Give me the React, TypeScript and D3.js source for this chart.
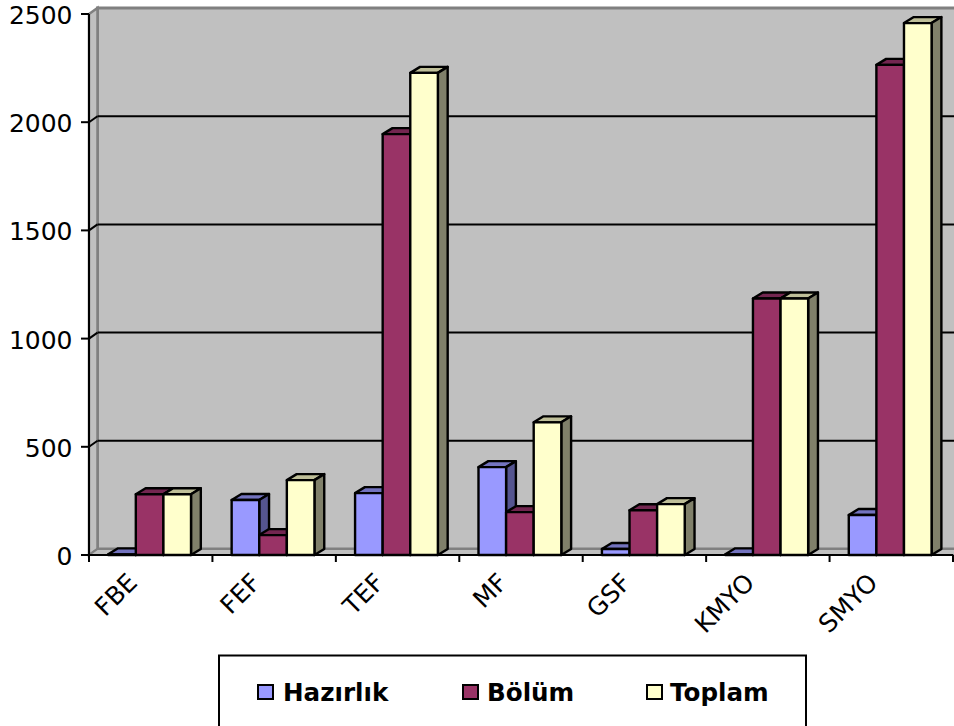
import React from "react";
import * as d3 from "d3";

const categories = ["FBE", "FEF", "TEF", "MF", "GSF", "KMYO", "SMYO"];
const seriesNames = ["Hazırlık", "Bölüm", "Toplam"];
const hazirlik = [3, 254, 286, 406, 28, 3, 185];
const bolum = [281, 92, 1945, 198, 207, 1185, 2265];
const toplam = [281, 346, 2228, 613, 235, 1185, 2458];
const yTicks = [0, 500, 1000, 1500, 2000, 2500];

const seriesValues = [hazirlik, bolum, toplam];
const fills = [
  { front: "#9999FF", top: "#7373BF", side: "#555590" },
  { front: "#993366", top: "#732650", side: "#552040" },
  { front: "#FFFFCC", top: "#BFBF99", side: "#80806A" },
];

const W = 954;
const H = 726;
const DX = 8.5;
const BAR_DX = 9.8;
const DY = 6;
const FONT = "'DejaVu Sans', Verdana, sans-serif";

const x0 = 89;
const x1 = 953;
const y = d3.scaleLinear().domain([0, 2500]).range([555, 14]);
const xCat = d3.scaleBand<string>().domain(categories).range([x0, x1]);
const barW = 27.6;
const pts = (p: number[][]) => p.map((q) => q.join(",")).join(" ");

export default function App() {
  return (
    <svg
      width={W}
      height={H}
      viewBox={`0 0 ${W} ${H}`}
      style={{ position: "absolute", left: 0, top: 0, background: "#fff" }}
    >
      {/* back wall, left wall and floor */}
      <polygon
        points={pts([[x0 + DX, y(2500) - DY], [W + 3, y(2500) - DY], [W + 3, y(0) - DY], [x0 + DX, y(0) - DY]])}
        fill="#C0C0C0"
        stroke="#808080"
        strokeWidth={3}
      />
      <polygon
        points={pts([[x0, y(2500)], [x0 + DX, y(2500) - DY], [x0 + DX, y(0) - DY], [x0, y(0)]])}
        fill="#C0C0C0"
        stroke="#808080"
        strokeWidth={2.5}
      />
      <polygon
        points={pts([[x0, y(0)], [x0 + DX, y(0) - DY], [W + 3, y(0) - DY], [W + 3, y(0)]])}
        fill="#C0C0C0"
        stroke="#808080"
        strokeWidth={2}
      />

      {/* gridlines on the back wall, with their slanted run on the left wall */}
      {yTicks.filter((t) => t > 0 && t < 2500).map((t) => (
        <g key={t} stroke="#000" strokeWidth={2} fill="none">
          <line x1={x0 + DX} x2={W} y1={y(t) - DY} y2={y(t) - DY} />
          <line x1={x0} x2={x0 + DX} y1={y(t)} y2={y(t) - DY} />
        </g>
      ))}

      {/* 3D columns */}
      {categories.map((c, i) => {
        const start = (xCat(c) as number) + xCat.bandwidth() / 2 - 42.5;
        return (
          <g key={c} stroke="#000" strokeWidth={2.4} strokeLinejoin="round">
            {seriesValues.map((vals, s) => {
              const left = start + s * barW;
              const right = left + barW;
              const top = y(vals[i]);
              const base = y(0);
              return (
                <g key={s}>
                  <polygon
                    points={pts([[left, top], [left + BAR_DX, top - DY], [right + BAR_DX, top - DY], [right, top]])}
                    fill={fills[s].top}
                  />
                  <polygon
                    points={pts([[right, top], [right + BAR_DX, top - DY], [right + BAR_DX, base - DY], [right, base]])}
                    fill={fills[s].side}
                  />
                  <rect x={left} y={top} width={barW} height={base - top} fill={fills[s].front} />
                </g>
              );
            })}
          </g>
        );
      })}

      {/* value axis */}
      <line x1={x0} x2={x0} y1={y(2500)} y2={y(0) + 7} stroke="#000" strokeWidth={2} />
      {yTicks.map((t) => (
        <g key={t}>
          <line x1={x0 - 8} x2={x0} y1={y(t)} y2={y(t)} stroke="#000" strokeWidth={2} />
          <text x={x0 - 16.5} y={y(t) + 10} textAnchor="end" fontFamily={FONT} fontSize={25} fill="#000">
            {t}
          </text>
        </g>
      ))}

      {/* category axis */}
      <line x1={x0} x2={x1} y1={y(0)} y2={y(0)} stroke="#000" strokeWidth={2} />
      {[...categories.map((c) => xCat(c) as number), x1].map((t) => (
        <line key={t} x1={t} x2={t} y1={y(0)} y2={y(0) + 7} stroke="#000" strokeWidth={2} />
      ))}
      {categories.map((c) => {
        const cx = (xCat(c) as number) + xCat.bandwidth() / 2;
        return (
          <text
            key={c}
            transform={`translate(${cx - 18},${y(0) + 23}) rotate(-45)`}
            textAnchor="end"
            dominantBaseline="central"
            fontFamily={FONT}
            fontSize={25}
            fill="#000"
          >
            {c}
          </text>
        );
      })}

      {/* legend */}
      <rect x={219} y={655.5} width={587} height={90} fill="#fff" stroke="#000" strokeWidth={2} />
      {seriesNames.map((n, s) => {
        const swatchX = [258, 463, 647][s];
        const textX = [283, 487, 670][s];
        return (
          <g key={n}>
            <rect x={swatchX} y={685} width={15} height={14} fill={fills[s].front} stroke="#000" strokeWidth={2} />
            <text x={textX} y={700.5} fontFamily={FONT} fontWeight="bold" fontSize={24.6} fill="#000">
              {n}
            </text>
          </g>
        );
      })}
    </svg>
  );
}
